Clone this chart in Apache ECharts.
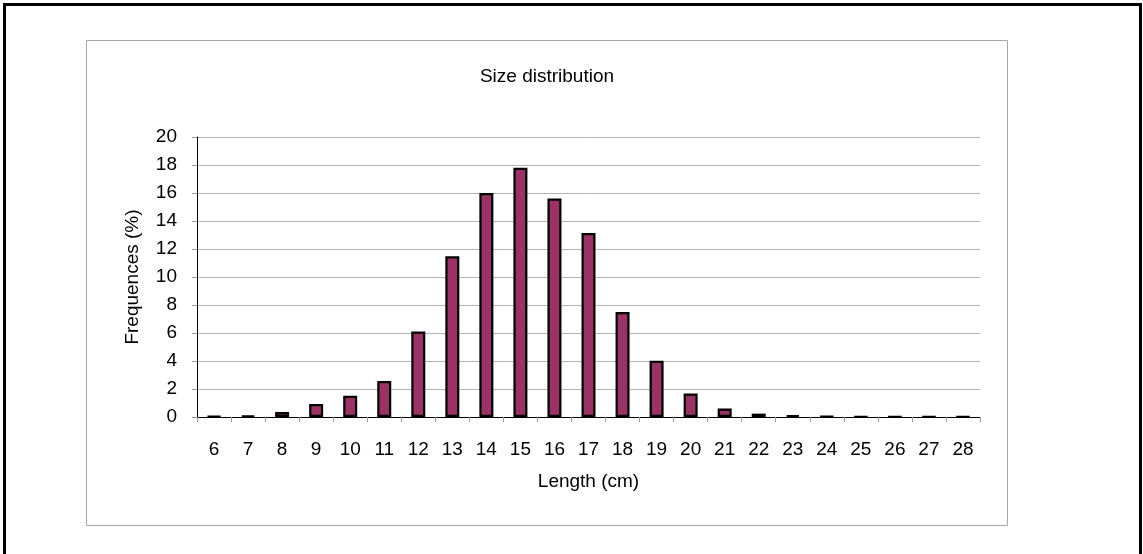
<!DOCTYPE html>
<html>
<head>
<meta charset="utf-8">
<script src="https://cdn.jsdelivr.net/npm/echarts@6/dist/echarts.min.js"></script>
<style>
html,body{margin:0;padding:0;background:#fff;}
#chart{width:1143px;height:554px;}
</style>
</head>
<body>
<div id="chart"></div>
<script>
const categories = ['6','7','8','9','10','11','12','13','14','15','16','17','18','19','20','21','22','23','24','25','26','27','28'];
const frequencies = [0.05,0.1,0.35,0.93,1.52,2.57,6.1,11.48,16.0,17.8,15.6,13.14,7.5,4.02,1.67,0.6,0.24,0.12,0.04,0.03,0.03,0.03,0.03];
const yTicks = {min:0, max:20, interval:2};

const FONT = '"Liberation Sans", Arial, sans-serif';
const chart = echarts.init(document.getElementById('chart'), null, {renderer:'canvas'});
chart.setOption({
  animation:false,
  backgroundColor:'#fff',
  title:{
    text:'Size distribution',
    left:542, top:62, textAlign:'center',
    textStyle:{fontFamily:FONT, fontSize:19, fontWeight:'normal', color:'#000'}
  },
  graphic:[
    {type:'rect', shape:{x:4.5, y:4.5, width:1136, height:560}, style:{fill:null, stroke:'#000', lineWidth:3}, silent:true},
    {type:'rect', shape:{x:86.5, y:40.5, width:921, height:485}, style:{fill:null, stroke:'#a6a6a6', lineWidth:1}, silent:true}
  ],
  grid:{left:197, top:137, width:783, height:280, containLabel:false},
  xAxis:{
    type:'category',
    data:categories,
    name:'Length (cm)',
    nameLocation:'middle',
    nameGap:55,
    nameTextStyle:{fontFamily:FONT, fontSize:19, color:'#000'},
    axisLine:{lineStyle:{color:'#000', width:1}},
    axisTick:{show:true, alignWithLabel:false, length:5, lineStyle:{color:'#999'}},
    axisLabel:{fontFamily:FONT, fontSize:19, color:'#000', margin:23, interval:0}
  },
  yAxis:{
    type:'value',
    min:yTicks.min, max:yTicks.max, interval:yTicks.interval,
    name:'Frequences (%)',
    nameLocation:'middle',
    nameGap:55,
    nameTextStyle:{fontFamily:FONT, fontSize:19, color:'#000'},
    axisLine:{show:true, lineStyle:{color:'#000', width:1}},
    axisTick:{show:true, length:5, lineStyle:{color:'#999'}},
    axisLabel:{fontFamily:FONT, fontSize:19, color:'#000', margin:20},
    splitLine:{show:true, lineStyle:{color:'#b4b4b4', width:1}}
  },
  series:[{
    type:'bar',
    data:frequencies,
    barWidth:14,
    itemStyle:{color:'#993366', borderColor:'#000', borderWidth:2.2}
  }]
});
</script>
</body>
</html>
